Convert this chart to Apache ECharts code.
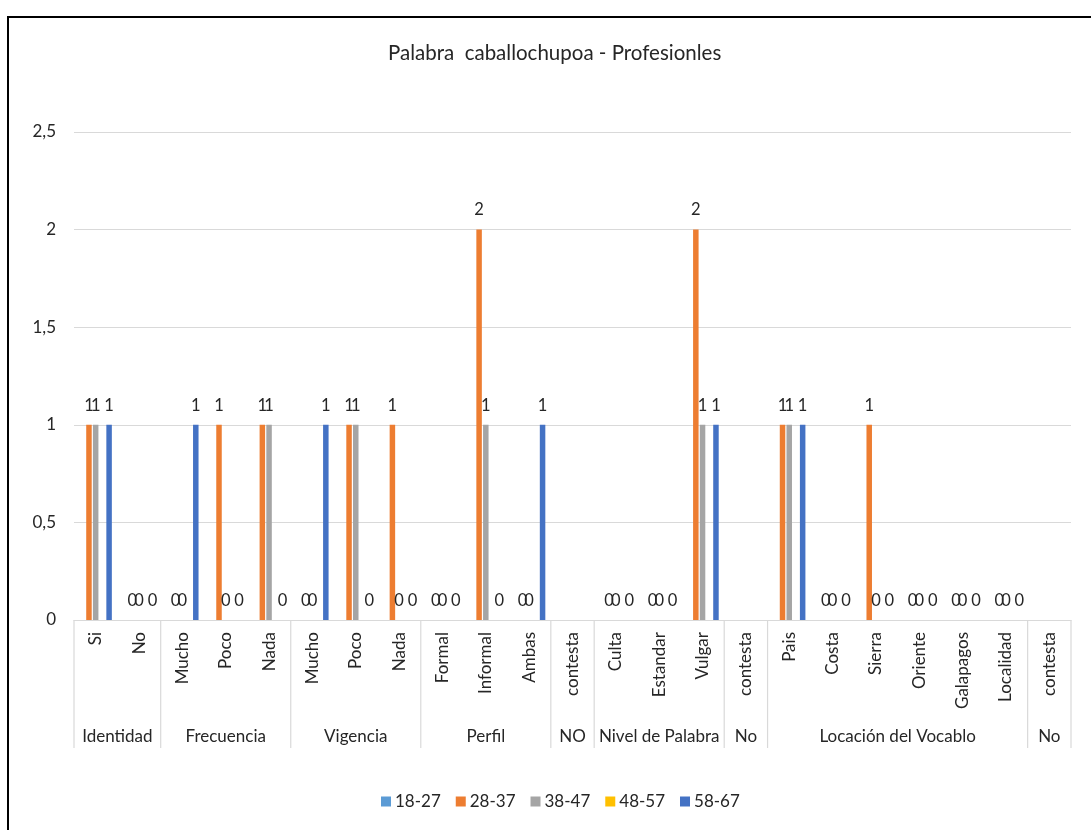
<!DOCTYPE html>
<html>
<head>
<meta charset="utf-8">
<script src="https://cdn.jsdelivr.net/npm/echarts@6/dist/echarts.min.js"></script>
<style>
  html, body { margin: 0; padding: 0; width: 1091px; height: 830px; overflow: hidden; background: #fff; }
  #frame { position: absolute; left: 7px; top: 16px; width: 2000px; height: 2000px;
           border-left: 2px solid #000; border-top: 2px solid #000; }
  #chart { position: absolute; left: 0; top: 0; width: 1091px; height: 830px; }
</style>
</head>
<body>
<div id="frame"></div>
<div id="chart"></div>
<script>
// Answer options (inner level of the category axis)
const subCategories = ['Si', 'No', 'Mucho', 'Poco', 'Nada', 'Mucho', 'Poco', 'Nada',
  'Formal', 'Informal', 'Ambas', 'contesta', 'Culta', 'Estandar', 'Vulgar', 'contesta',
  'Pais', 'Costa', 'Sierra', 'Oriente', 'Galapagos', 'Localidad', 'contesta'];

// Question groups (outer level) and how many options each one holds
const groupNames = ['Identidad', 'Frecuencia', 'Vigencia', 'Perfil', 'NO',
  'Nivel de Palabra', 'No', 'Locación del Vocablo', 'No'];
const groupSizes = [2, 3, 3, 3, 1, 3, 1, 6, 1];

// Age ranges
const seriesNames = ['18-27', '28-37', '38-47', '48-57', '58-67'];
const seriesColors = ['#5B9BD5', '#ED7D31', '#A5A5A5', '#FFC000', '#4472C4'];

// Answers per age range (null = no answer recorded)
const s18_27 = [null, null, null, null, null, null, null, null, null, null, null, null,
  null, null, null, null, null, null, null, null, null, null, null];
const s28_37 = [1, 0, 0, 1, 1, 0, 1, 1, 0, 2, 0, null, 0, 0, 2, null, 1, 0, 1, 0, 0, 0, null];
const s38_47 = [1, 0, 0, 0, 1, 0, 1, 0, 0, 1, 0, null, 0, 0, 1, null, 1, 0, 0, 0, 0, 0, null];
const s48_57 = [null, null, null, null, null, null, null, null, null, null, null, null,
  null, null, null, null, null, null, null, null, null, null, null];
const s58_67 = [1, 0, 1, 0, 0, 1, 0, 0, 0, 0, 1, null, 0, 0, 1, null, 1, 0, 0, 0, 0, 0, null];

const yTicks = { min: 0, max: 2.5, interval: 0.5 };

const FONT = 'Lato, "Open Sans", sans-serif';
const TEXT = '#262626';
const LINE = '#D9D9D9';

const seriesValues = [s18_27, s28_37, s38_47, s48_57, s58_67];

// [first index, last index, 0] for each outer group
const groupSpans = [];
let start = 0;
groupSizes.forEach(function (n) {
  groupSpans.push([start, start + n - 1, 0]);
  start += n;
});

const barSeries = seriesNames.map(function (name, i) {
  return {
    name: name,
    type: 'bar',
    data: seriesValues[i],
    barWidth: 5.5,
    barGap: '22%',
    itemStyle: { color: seriesColors[i] },
    label: {
      show: true,
      position: 'top',
      distance: 11,
      color: TEXT,
      fontFamily: FONT,
      fontSize: 16.5
    }
  };
});

// Outer level of the category axis: group separators and group names
const groupSeries = {
  type: 'custom',
  silent: true,
  clip: false,
  data: groupSpans,
  encode: { x: 0, y: 2 },
  renderItem: function (params, api) {
    const band = api.size([1, 0])[0];
    const a = api.coord([api.value(0), 0]);
    const b = api.coord([api.value(1), 0]);
    const left = a[0] - band / 2;
    const right = b[0] + band / 2;
    const y0 = a[1];
    const children = [
      { type: 'line', shape: { x1: left, y1: y0, x2: left, y2: y0 + 128 },
        style: { stroke: LINE, lineWidth: 1.2 } },
      { type: 'text',
        style: { text: groupNames[params.dataIndex], x: (left + right) / 2, y: y0 + 117,
                 align: 'center', verticalAlign: 'middle', fill: TEXT,
                 fontFamily: FONT, fontSize: 17 } }
    ];
    if (params.dataIndex === groupSpans.length - 1) {
      children.push({ type: 'line', shape: { x1: right, y1: y0, x2: right, y2: y0 + 128 },
        style: { stroke: LINE, lineWidth: 1.2 } });
    }
    return { type: 'group', children: children };
  }
};

const chart = echarts.init(document.getElementById('chart'), null, { renderer: 'canvas' });
chart.setOption({
  animation: false,
  title: {
    text: 'Palabra  caballochupoa - Profesionles',
    left: 388,
    top: 43,
    padding: 0,
    textStyle: { fontFamily: FONT, fontSize: 20.5, fontWeight: 'normal', color: TEXT }
  },
  legend: {
    data: seriesNames,
    left: 381,
    top: 793,
    padding: 0,
    icon: 'rect',
    itemWidth: 10,
    itemHeight: 10,
    itemGap: 15,
    textStyle: { fontFamily: FONT, fontSize: 17, color: TEXT, padding: [0, 0, 0, -1] }
  },
  grid: { left: 74, right: 20, top: 132, bottom: 210, containLabel: false },
  xAxis: {
    type: 'category',
    data: subCategories,
    axisTick: { show: false },
    axisLine: { lineStyle: { color: LINE, width: 1.2 } },
    axisLabel: {
      interval: 0,
      rotate: 90,
      margin: 12,
      color: TEXT,
      fontFamily: FONT,
      fontSize: 17
    }
  },
  yAxis: {
    type: 'value',
    min: yTicks.min,
    max: yTicks.max,
    interval: yTicks.interval,
    axisLine: { show: false },
    axisTick: { show: false },
    splitLine: { lineStyle: { color: LINE, width: 1.2 } },
    axisLabel: {
      margin: 18,
      color: TEXT,
      fontFamily: FONT,
      fontSize: 17,
      formatter: function (v) { return String(v).replace('.', ','); }
    }
  },
  series: barSeries.concat([groupSeries])
});
</script>
</body>
</html>
